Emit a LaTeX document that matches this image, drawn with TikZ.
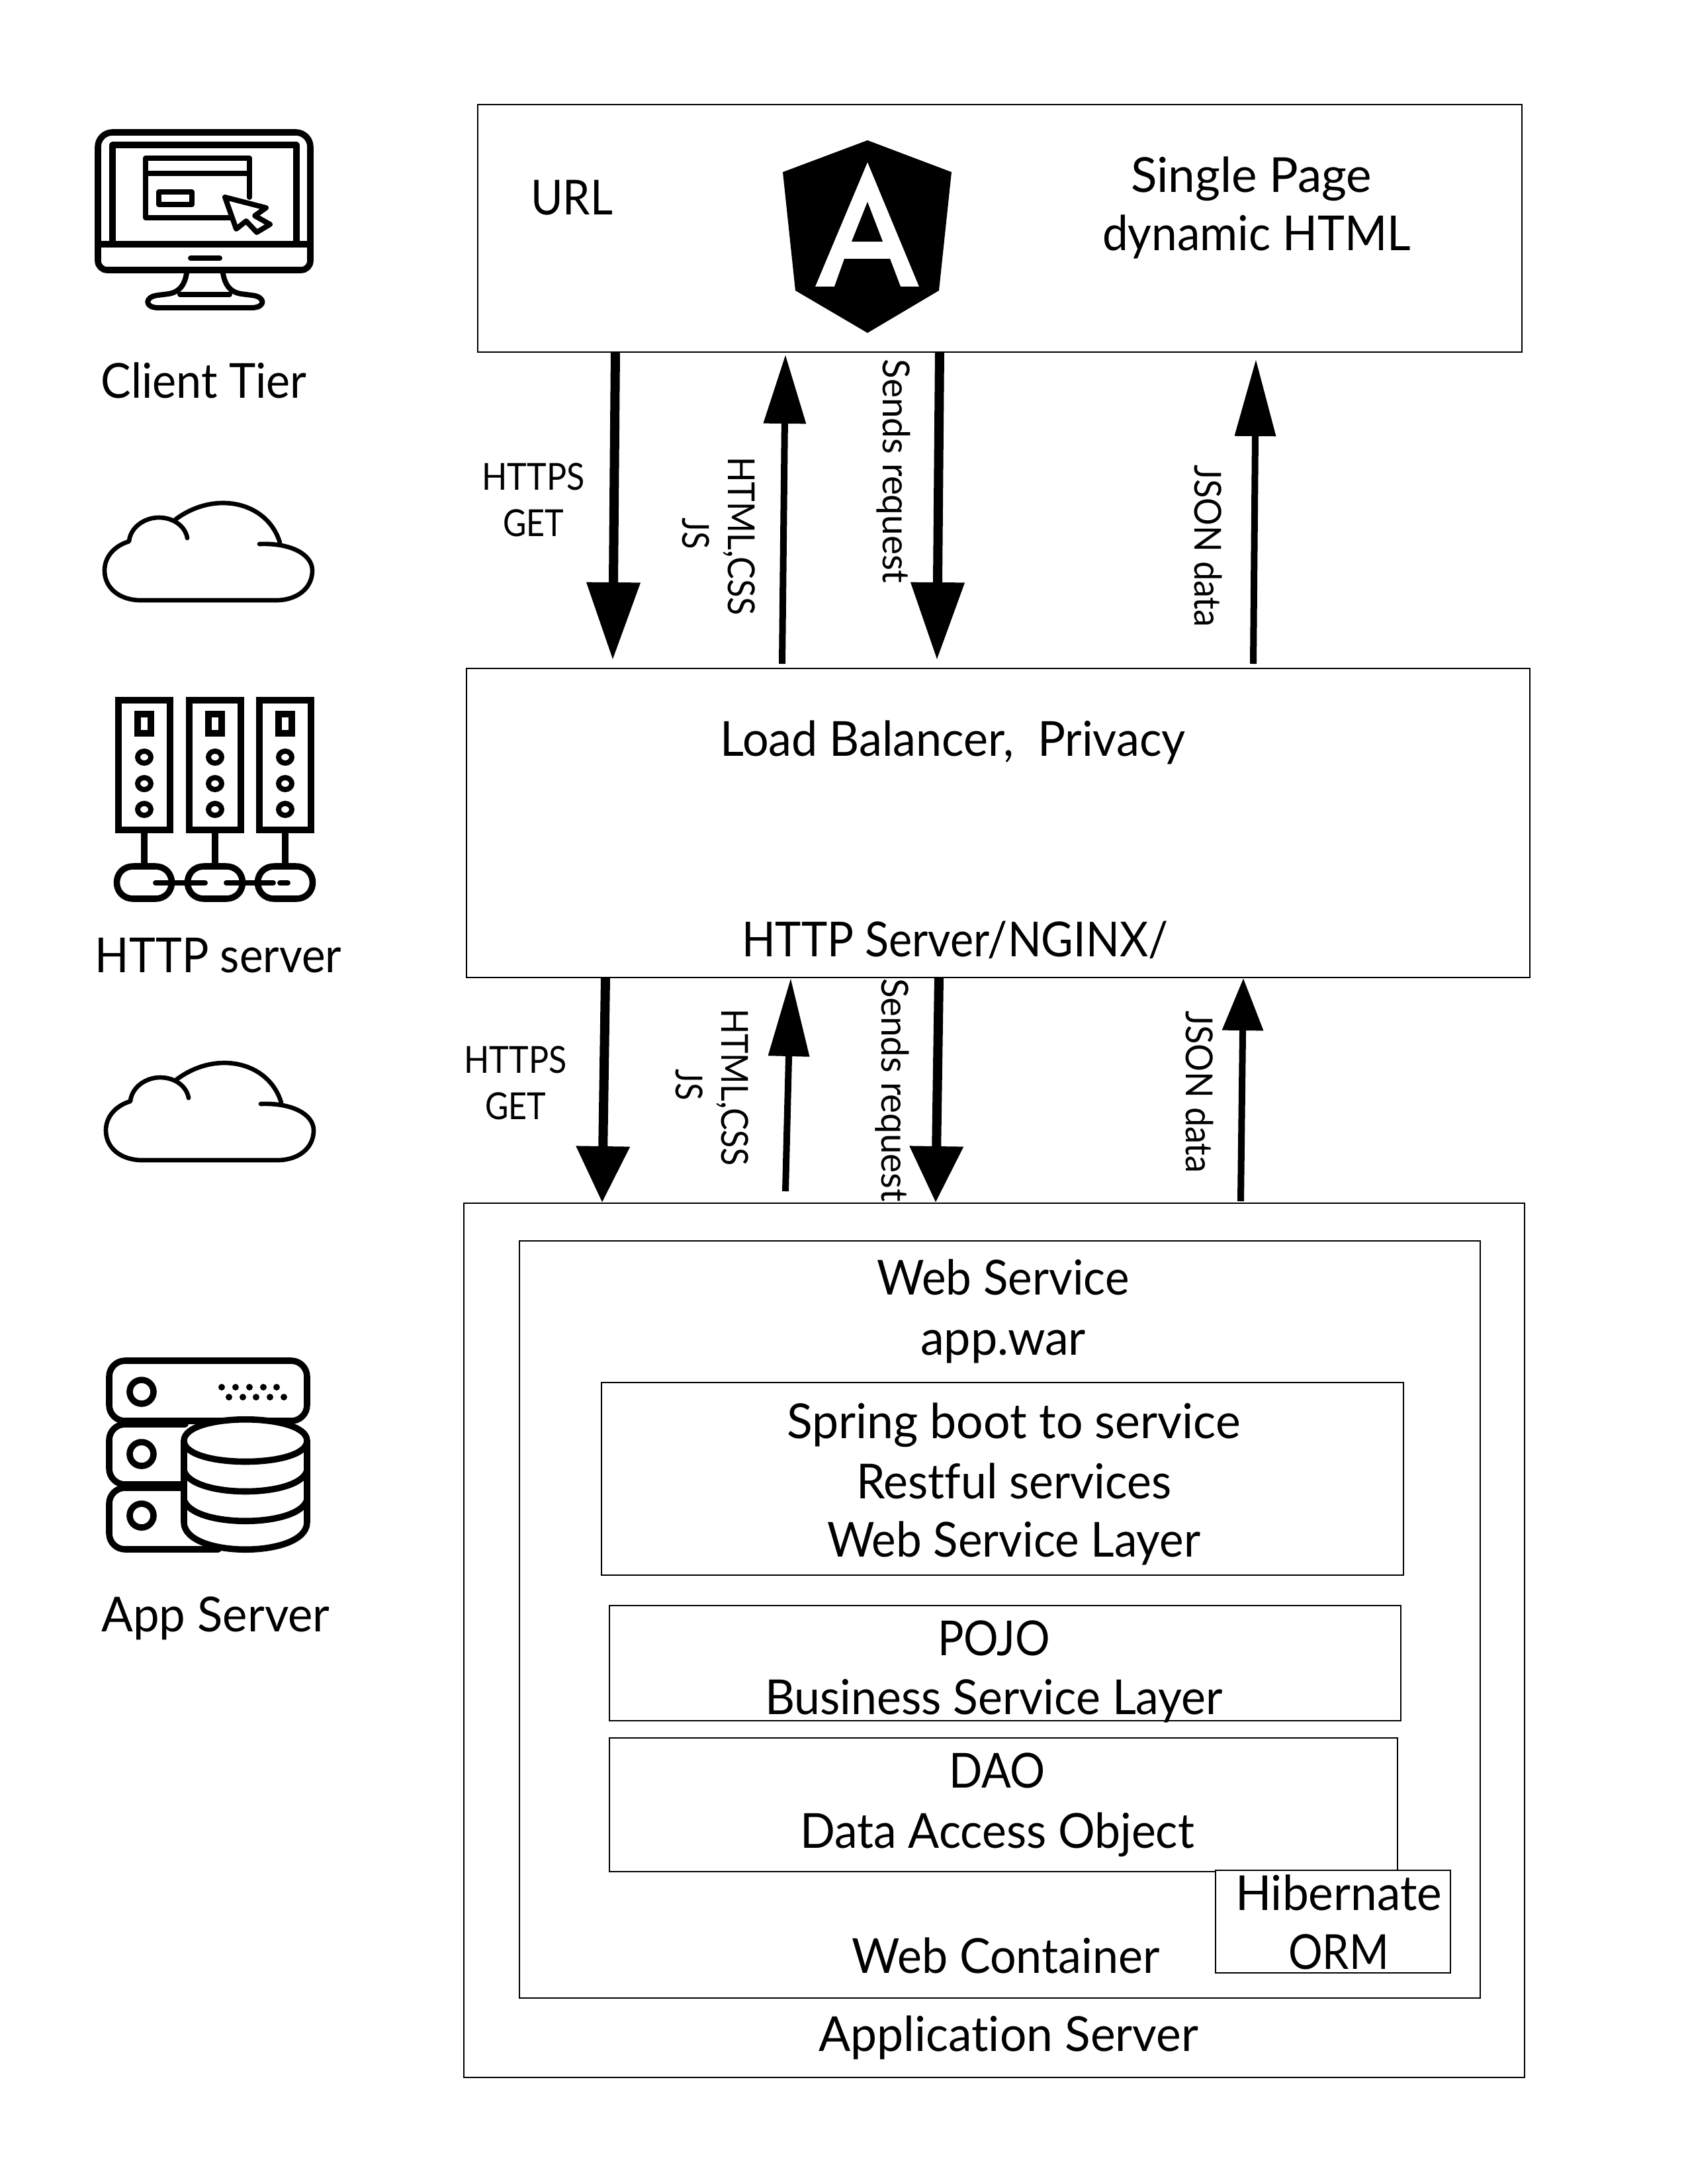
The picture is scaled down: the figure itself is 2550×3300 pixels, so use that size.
\documentclass[tikz,border=0pt]{standalone}
\usepackage{fontspec}
\usepackage{graphicx}
\setmainfont{Lato}[Ligatures=NoCommon]
\usetikzlibrary{arrows.meta,fit}
\newcommand\fitw[2]{\resizebox{\dimexpr #1pt*24/100\relax}{\height}{#2}}
\tikzset{
  box/.style={draw=black,line width=0.7pt,inner sep=0pt,outer sep=0pt,fill=none},
  big/.style={font=\fontsize{17.5}{22}\selectfont,anchor=base,inner sep=0pt,outer sep=0pt},
  small/.style={font=\fontsize{13.5}{17}\selectfont,anchor=base,inner sep=0pt,outer sep=0pt},
  side/.style={small,rotate=-90},
  flowhead/.style n args={3}{line width=#1*0.24pt,-{Triangle[length=#2*0.24pt,width=#3*0.24pt]}},
  icon/.style={line width=2.3pt,line join=round,line cap=round},
  iconthin/.style={line width=1.9pt,line join=round,line cap=round},
  cloudicon/.pic={
    \draw[line width=1.6pt,line cap=round,line join=round] (392,822) .. controls (440,820) and (472,838) .. (472,862) .. controls (472,888) and (450,907) .. (417,907) -- (213,907) .. controls (180,907) and (158,888) .. (158,862) .. controls (158,842) and (172,825) .. (195,818) .. controls (197,797) and (218,782) .. (240,782) .. controls (262,782) and (280,795) .. (283,813);
    \draw[line width=1.6pt,line cap=round] (423,820) .. controls (412,783) and (378,760) .. (337,760) .. controls (310,760) and (285,770) .. (265,785);
  }
}
\begin{document}
\begin{tikzpicture}[x=0.24pt,y=-0.24pt]
\useasboundingbox (0,0) rectangle (2550,3300);
% boxes
\node[box,fit={(722,158)(2300,532)}] (client) {};
\node[box,fit={(705,1010)(2312,1477)}] (http) {};
\node[box,fit={(701,1818)(2304,3139)}] (app) {};
\node[box,fit={(785,1875)(2237,3019)}] (web) {};
\node[box,fit={(909,2089)(2121,2380)}] (spring) {};
\node[box,fit={(921,2426)(2117,2600)}] (pojo) {};
\node[box,fit={(921,2626)(2112,2828)}] (dao) {};
\node[box,fill=white,fit={(1837,2826)(2192,2981)}] (hib) {};
% box texts
\node[big] (t1) at (864,324) {\fitw{124}{URL}};
\node[big] (t2) at (1891,290) {\fitw{364}{Single Page}};
\node[big] (t3) at (1899,378) {\fitw{466}{dynamic HTML}};
\node[big] (t4) at (1440,1142) {\fitw{703}{Load Balancer,\ \ Privacy}};
\node[big] (t5) at (1443,1445) {\fitw{644}{HTTP Server/NGINX/}};
\node[big] (t6) at (1516,1956) {\fitw{381}{Web Service}};
\node[big] (t7) at (1516,2047) {\fitw{250}{app.war}};
\node[big] (t8) at (1532,2173) {\fitw{686}{Spring boot to service}};
\node[big] (t9) at (1532,2264) {\fitw{476}{Restful services}};
\node[big] (t10) at (1532,2352) {\fitw{564}{Web Service Layer}};
\node[big] (t11) at (1502,2501) {\fitw{170}{POJO}};
\node[big] (t12) at (1502,2590) {\fitw{692}{Business Service Layer}};
\node[big] (t13) at (1507,2701) {\fitw{146}{DAO}};
\node[big] (t14) at (1507,2792) {\fitw{596}{Data Access Object}};
\node[big] (t15) at (2023,2886) {\fitw{312}{Hibernate}};
\node[big] (t16) at (2023,2975) {\fitw{152}{ORM}};
\node[big] (t17) at (1520,2981) {\fitw{465}{Web Container}};
\node[big] (t18) at (1524,3099) {\fitw{574}{Application Server}};
% left labels
\node[big] (l1) at (308,601) {\fitw{311}{Client Tier}};
\node[big] (l2) at (330,1469) {\fitw{372}{HTTP server}};
\node[big] (l3) at (326,2465) {\fitw{345}{App Server}};
% arrow ends
\coordinate (a1s) at (930,532); \coordinate (a1e) at (926,997);
\coordinate (a2s) at (1182,1003); \coordinate (a2e) at (1187,536);
\coordinate (a3s) at (1420,532); \coordinate (a3e) at (1416,997);
\coordinate (a4s) at (1894,1003); \coordinate (a4e) at (1898,543);
\coordinate (b1s) at (915,1478); \coordinate (b1e) at (910,1817);
\coordinate (b2s) at (1187,1800); \coordinate (b2e) at (1195,1478);
\coordinate (b3s) at (1419,1478); \coordinate (b3e) at (1414,1817);
\coordinate (b4s) at (1875,1815); \coordinate (b4e) at (1879,1478);
\draw[flowhead={14}{117}{78}] (a1s) -- (a1e);
\draw[flowhead={10}{104}{62}] (a2s) -- (a2e);
\draw[flowhead={14}{117}{78}] (a3s) -- (a3e);
\draw[flowhead={10}{116}{60}] (a4s) -- (a4e);
\draw[flowhead={14}{85}{78}] (b1s) -- (b1e);
\draw[flowhead={10}{118}{60}] (b2s) -- (b2e);
\draw[flowhead={14}{85}{78}] (b3s) -- (b3e);
\draw[flowhead={10}{79}{60}] (b4s) -- (b4e);
% arrow labels
\node[small] (h1) at (806,740) {\fitw{155}{HTTPS}};
\node[small] (g1) at (806,810) {\fitw{92}{GET}};
\node[small] (h2) at (779,1621) {\fitw{155}{HTTPS}};
\node[small] (g2) at (779,1691) {\fitw{92}{GET}};
\node[side] (c1) at (1100,810) {\fitw{240}{HTML,CSS}};
\node[side] (j1) at (1031,806) {\fitw{47}{JS}};
\node[side] (c2) at (1090,1643) {\fitw{238}{HTML,CSS}};
\node[side] (j2) at (1021,1639) {\fitw{47}{JS}};
\node[side] (s1) at (1334,712) {\fitw{339}{Sends request}};
\node[side] (s2) at (1332,1647) {\fitw{338}{Sends request}};
\node[side] (d1) at (1805,825) {\fitw{245}{JSON data}};
\node[side] (d2) at (1792,1650) {\fitw{245}{JSON data}};
% angular logo
\fill[black,even odd rule] (1311,212) -- (1438,260) -- (1419,439) -- (1311,503) -- (1202,439) -- (1183,260) -- cycle
  (1311,245) -- (1232,433) -- (1261,433) -- (1276,391) -- (1345,391) -- (1361,433) -- (1389,433) -- cycle
  (1311,305) -- (1287,365) -- (1334,365) -- cycle;
% monitor icon
\draw[icon,rounded corners=22*0.24pt] (148,369) -- (148,200) -- (469,200) -- (469,369);
\draw[icon,rounded corners=14*0.24pt] (148,369) -- (148,408) -- (469,408) -- (469,369);
\draw[icon] (148,369) -- (469,369);
\draw[icon] (170,369) -- (170,219) -- (448,219) -- (448,369);
\draw[iconthin] (377,298) -- (377,239) -- (220,239) -- (220,329) -- (347,329);
\draw[iconthin] (220,262) -- (377,262);
\draw[iconthin] (240,290) rectangle (290,309);
\draw[iconthin,fill=white] (340,298) -- (402,314) -- (385,326) -- (408,339) -- (388,351) -- (372,334) -- (357,346) -- cycle;
\draw[iconthin] (288,390) -- (332,390);
\draw[iconthin] (282,413) .. controls (279,430) and (272,441) .. (255,444) -- (239,446) .. controls (218,448) and (218,465) .. (239,465) -- (380,465) .. controls (402,465) and (402,448) .. (380,446) -- (364,444) .. controls (347,441) and (340,430) .. (337,413);
\draw[iconthin] (272,445) -- (347,445);
% cloud icons
\pic at (0,0) {cloudicon};
\pic at (2,846) {cloudicon};
% server rack icon
\foreach \cx in {218,325,431} {
  \draw[icon,line cap=butt,line join=miter] (\cx-39,1058) rectangle (\cx+39,1254);
  \draw[icon,line cap=butt,line join=miter] (\cx-10,1079) rectangle (\cx+10,1108);
  \foreach \cy in {1144,1184,1223} \draw[iconthin] (\cx,\cy) ellipse (10 and 9);
  \draw[icon,line cap=butt] (\cx,1254) -- (\cx,1309);
  \draw[icon] (\cx-16,1309) -- (\cx+16,1309) .. controls (\cx+50,1309) and (\cx+50,1358) .. (\cx+16,1358) -- (\cx-16,1358) .. controls (\cx-50,1358) and (\cx-50,1309) .. (\cx-16,1309) -- cycle;
}
\draw[iconthin] (235,1334) -- (310,1334);
\draw[iconthin] (342,1334) -- (413,1334);
\draw[iconthin] (423,1334) -- (435,1334);
% app server icon
\draw[icon,rounded corners=24*0.24pt] (165,2056) rectangle (464,2147);
\draw[icon,rounded corners=24*0.24pt] (280,2152) -- (165,2152) -- (165,2243) -- (278,2243);
\draw[icon,rounded corners=24*0.24pt] (278,2248) -- (165,2248) -- (165,2341) -- (330,2341);
\foreach \cy in {2103,2197,2290} \draw[icon] (214,\cy) circle (18);
\foreach \dx in {335,356,377,398,418} \fill (\dx,2096) circle (5);
\foreach \dx in {346,367,387,408,429} \fill (\dx,2111) circle (5);
\draw[icon,fill=white] (278,2177) .. controls (278,2134) and (464,2134) .. (464,2177) -- (464,2300) .. controls (464,2355) and (278,2355) .. (278,2300) -- cycle;
\draw[icon] (278,2177) .. controls (278,2219) and (464,2219) .. (464,2177);
\draw[icon] (278,2222) .. controls (290,2264) and (452,2264) .. (464,2222);
\draw[icon] (278,2266) .. controls (290,2309) and (452,2309) .. (464,2266);
\end{tikzpicture}
\end{document}
